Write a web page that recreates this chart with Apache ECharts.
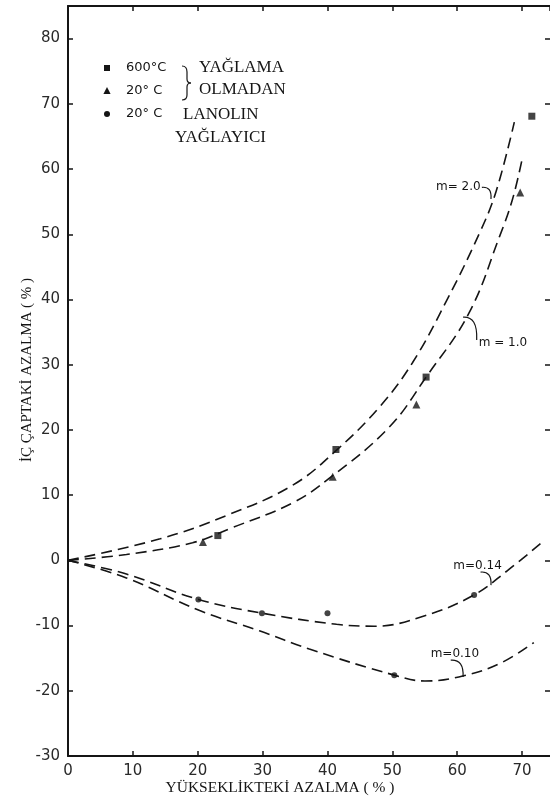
<!DOCTYPE html>
<html>
<head>
<meta charset="utf-8">
<script src="https://cdn.jsdelivr.net/npm/echarts@6/dist/echarts.min.js"></script>
<style>
  html, body { margin: 0; padding: 0; background: #fff; }
  #chart { width: 550px; height: 803px; }
</style>
</head>
<body>
<div id="chart"></div>
<script>
// Measured points: height reduction (%) vs. inner-diameter reduction (%)
const squares600C = [[23.1, 3.8], [41.3, 17.0], [55.2, 28.1], [71.5, 68.1]];
const triangles20C = [[20.8, 2.8], [40.8, 12.8], [53.7, 23.9], [69.7, 56.4]];
const circlesLanolin = [[20.1, -6.0], [29.9, -8.1], [40.0, -8.1], [50.3, -17.6], [62.6, -5.3]];

// Friction-factor curves
const curveM20 = [[0, 0], [14.2, 3.3], [24.5, 6.9], [34.6, 11.5], [41.4, 16.9], [48.0, 23.5],
  [53.1, 30.3], [58.3, 39.7], [63.4, 50.1], [66.0, 56.6], [68.8, 67.2]];
const curveM10 = [[0, 0], [9.0, 0.9], [19.2, 2.7], [25.3, 5.0], [34.6, 8.8], [40.3, 12.6],
  [49.5, 20.4], [55.2, 28.1], [61.8, 37.9], [66.5, 49.6], [68.5, 55.3], [70.0, 61.5]];
const curveM014 = [[0, 0], [9.0, -2.1], [20.1, -6.0], [29.9, -8.1], [41.4, -9.8], [47.2, -10.1],
  [55.0, -8.5], [62.6, -5.3], [67.7, -1.6], [73.0, 2.7]];
const curveM010 = [[0, 0], [9.0, -2.7], [20.3, -7.7], [29.5, -10.8], [37.2, -13.6], [50.3, -17.6],
  [55.0, -18.5], [61.0, -17.7], [66.8, -15.7], [71.8, -12.6]];

const curveNames = ['m= 2.0', 'm = 1.0', 'm=0.14', 'm=0.10'];
const xAxisTitle = 'YÜKSEKLİKTEKİ AZALMA ( % )';
const yAxisTitle = 'İÇ ÇAPTAKİ AZALMA ( % )';
const legendTemps = ['600°C', '20° C', '20° C'];
const legendWords = ['YAĞLAMA', 'OLMADAN', 'LANOLIN', 'YAĞLAYICI'];

const chart = echarts.init(document.getElementById('chart'), null, { renderer: 'canvas' });

const ink = '#151515';
const tickFont = { fontFamily: 'DejaVu Sans', fontSize: 15, color: '#2a2a2a' };
const serif = 'Liberation Serif';

function tickLabel(v) {
  return (Math.abs(v % 10) < 1e-9) ? String(v) : '';
}

function axisBase(pos, min, max, showLabels) {
  return {
    type: 'value', position: pos, min: min, max: max, interval: 10,
    axisLine: { show: true, onZero: false, lineStyle: { color: ink, width: 2 } },
    axisTick: { show: true, inside: true, length: 5, lineStyle: { color: ink, width: 1.5 } },
    axisLabel: showLabels ? Object.assign({ formatter: tickLabel, showMaxLabel: false }, tickFont, { margin: 8 }) : { show: false },
    splitLine: { show: false }
  };
}

const dashed = { color: ink, width: 1.6, type: [11, 6] };
function curve(name, data) {
  return {
    name: name, type: 'line', data: data, smooth: 0.4,
    showSymbol: false, symbol: 'none', lineStyle: dashed, z: 2, silent: true
  };
}

const xAxes = [axisBase('bottom', 0, 74.3, true), axisBase('top', 0, 74.3, false)];
const yAxes = [axisBase('left', -30, 85, true), axisBase('right', -30, 85, false)];
yAxes[1].axisLine.show = false;

chart.setOption({
  animation: false,
  backgroundColor: '#ffffff',
  grid: { left: 68, right: 0, top: 6, bottom: 47 },
  xAxis: xAxes,
  yAxis: yAxes,
  series: [
    curve(curveNames[0], curveM20),
    curve(curveNames[1], curveM10),
    curve(curveNames[2], curveM014),
    curve(curveNames[3], curveM010),
    { name: '600°C', type: 'scatter', data: squares600C, symbol: 'rect', symbolSize: 7,
      itemStyle: { color: ink }, z: 3 },
    { name: '20° C', type: 'scatter', data: triangles20C, symbol: 'triangle', symbolSize: 8,
      itemStyle: { color: ink }, z: 3 },
    { name: 'LANOLIN', type: 'scatter', data: circlesLanolin, symbol: 'circle', symbolSize: 6,
      itemStyle: { color: ink }, z: 3 }
  ]
});

// Curve labels with their small curled leaders, anchored in data space
const curveTags = [
  { text: curveNames[0], at: [63.6, 57.2], align: 'right', from: [63.8, 57.2], to: [65.2, 55.4] },
  { text: curveNames[1], at: [63.3, 33.4], align: 'left', from: [60.9, 37.3], to: [63.0, 33.8] },
  { text: curveNames[2], at: [59.4, -0.8], align: 'left', from: [63.6, -1.8], to: [65.2, -3.8] },
  { text: curveNames[3], at: [55.9, -14.4], align: 'left', from: [59.0, -15.3], to: [60.9, -17.9] }
];

const px = p => chart.convertToPixel({ xAxisIndex: 0, yAxisIndex: 0 }, p);
const graphics = [];

function stroke(shape) {
  return { type: 'bezierCurve', z: 10, shape: shape, style: { stroke: ink, lineWidth: 1.2, fill: null } };
}

curveTags.forEach(t => {
  const p = px(t.at);
  graphics.push({
    type: 'text', x: p[0], y: p[1], z: 10,
    style: { text: t.text, font: '12px "DejaVu Sans"', fill: ink,
      align: t.align, verticalAlign: 'middle', textAlign: t.align, textVerticalAlign: 'middle' }
  });
  const a = px(t.from), b = px(t.to);
  graphics.push(stroke({ x1: a[0], y1: a[1], x2: b[0], y2: b[1], cpx1: b[0] + 1, cpy1: a[1] - 1 }));
});

// Legend block
const legendX = 107;
const rows = [68, 91, 114];
graphics.push(
  { type: 'rect', shape: { x: legendX - 3, y: rows[0] - 3, width: 6, height: 6 }, style: { fill: ink } },
  { type: 'polygon', shape: { points: [[legendX, rows[1] - 4], [legendX - 3.6, rows[1] + 3], [legendX + 3.6, rows[1] + 3]] }, style: { fill: ink } },
  { type: 'circle', shape: { cx: legendX, cy: rows[2], r: 3 }, style: { fill: ink } }
);
legendTemps.forEach((txt, i) => {
  graphics.push({
    type: 'text', x: 126, y: rows[i],
    style: { text: txt, font: '13px "DejaVu Sans"', fill: ink,
      align: 'left', verticalAlign: 'middle', textAlign: 'left', textVerticalAlign: 'middle' }
  });
});

// Curly brace grouping the two dry rows
graphics.push(
  stroke({ x1: 182, y1: 66, x2: 187, y2: 72, cpx1: 186, cpy1: 66, cpx2: 187, cpy2: 68 }),
  { type: 'line', shape: { x1: 187, y1: 72, x2: 187, y2: 79 }, style: { stroke: ink, lineWidth: 1.2 } },
  stroke({ x1: 187, y1: 79, x2: 191, y2: 83, cpx1: 187, cpy1: 82, cpx2: 188, cpy2: 83 }),
  stroke({ x1: 191, y1: 83, x2: 187, y2: 87, cpx1: 188, cpy1: 83, cpx2: 187, cpy2: 84 }),
  { type: 'line', shape: { x1: 187, y1: 87, x2: 187, y2: 95 }, style: { stroke: ink, lineWidth: 1.2 } },
  stroke({ x1: 187, y1: 95, x2: 182, y2: 100, cpx1: 187, cpy1: 98, cpx2: 186, cpy2: 100 })
);

const wordPos = [[199, 68], [199, 90], [183, 115], [175, 138]];
legendWords.forEach((w, i) => {
  graphics.push({
    type: 'text', x: wordPos[i][0], y: wordPos[i][1],
    style: { text: w, font: '17px "' + serif + '"', fill: ink,
      align: 'left', verticalAlign: 'middle', textAlign: 'left', textVerticalAlign: 'middle' }
  });
});

// Axis titles
graphics.push(
  { type: 'text', x: 280, y: 788,
    style: { text: xAxisTitle, font: '15.5px "' + serif + '"', fill: ink,
      align: 'center', verticalAlign: 'middle', textAlign: 'center', textVerticalAlign: 'middle' } },
  { type: 'text', x: 27, y: 370, rotation: Math.PI / 2,
    style: { text: yAxisTitle, font: '15px "' + serif + '"', fill: ink,
      align: 'center', verticalAlign: 'middle', textAlign: 'center', textVerticalAlign: 'middle' } }
);

chart.setOption({ graphic: graphics });
</script>
</body>
</html>
